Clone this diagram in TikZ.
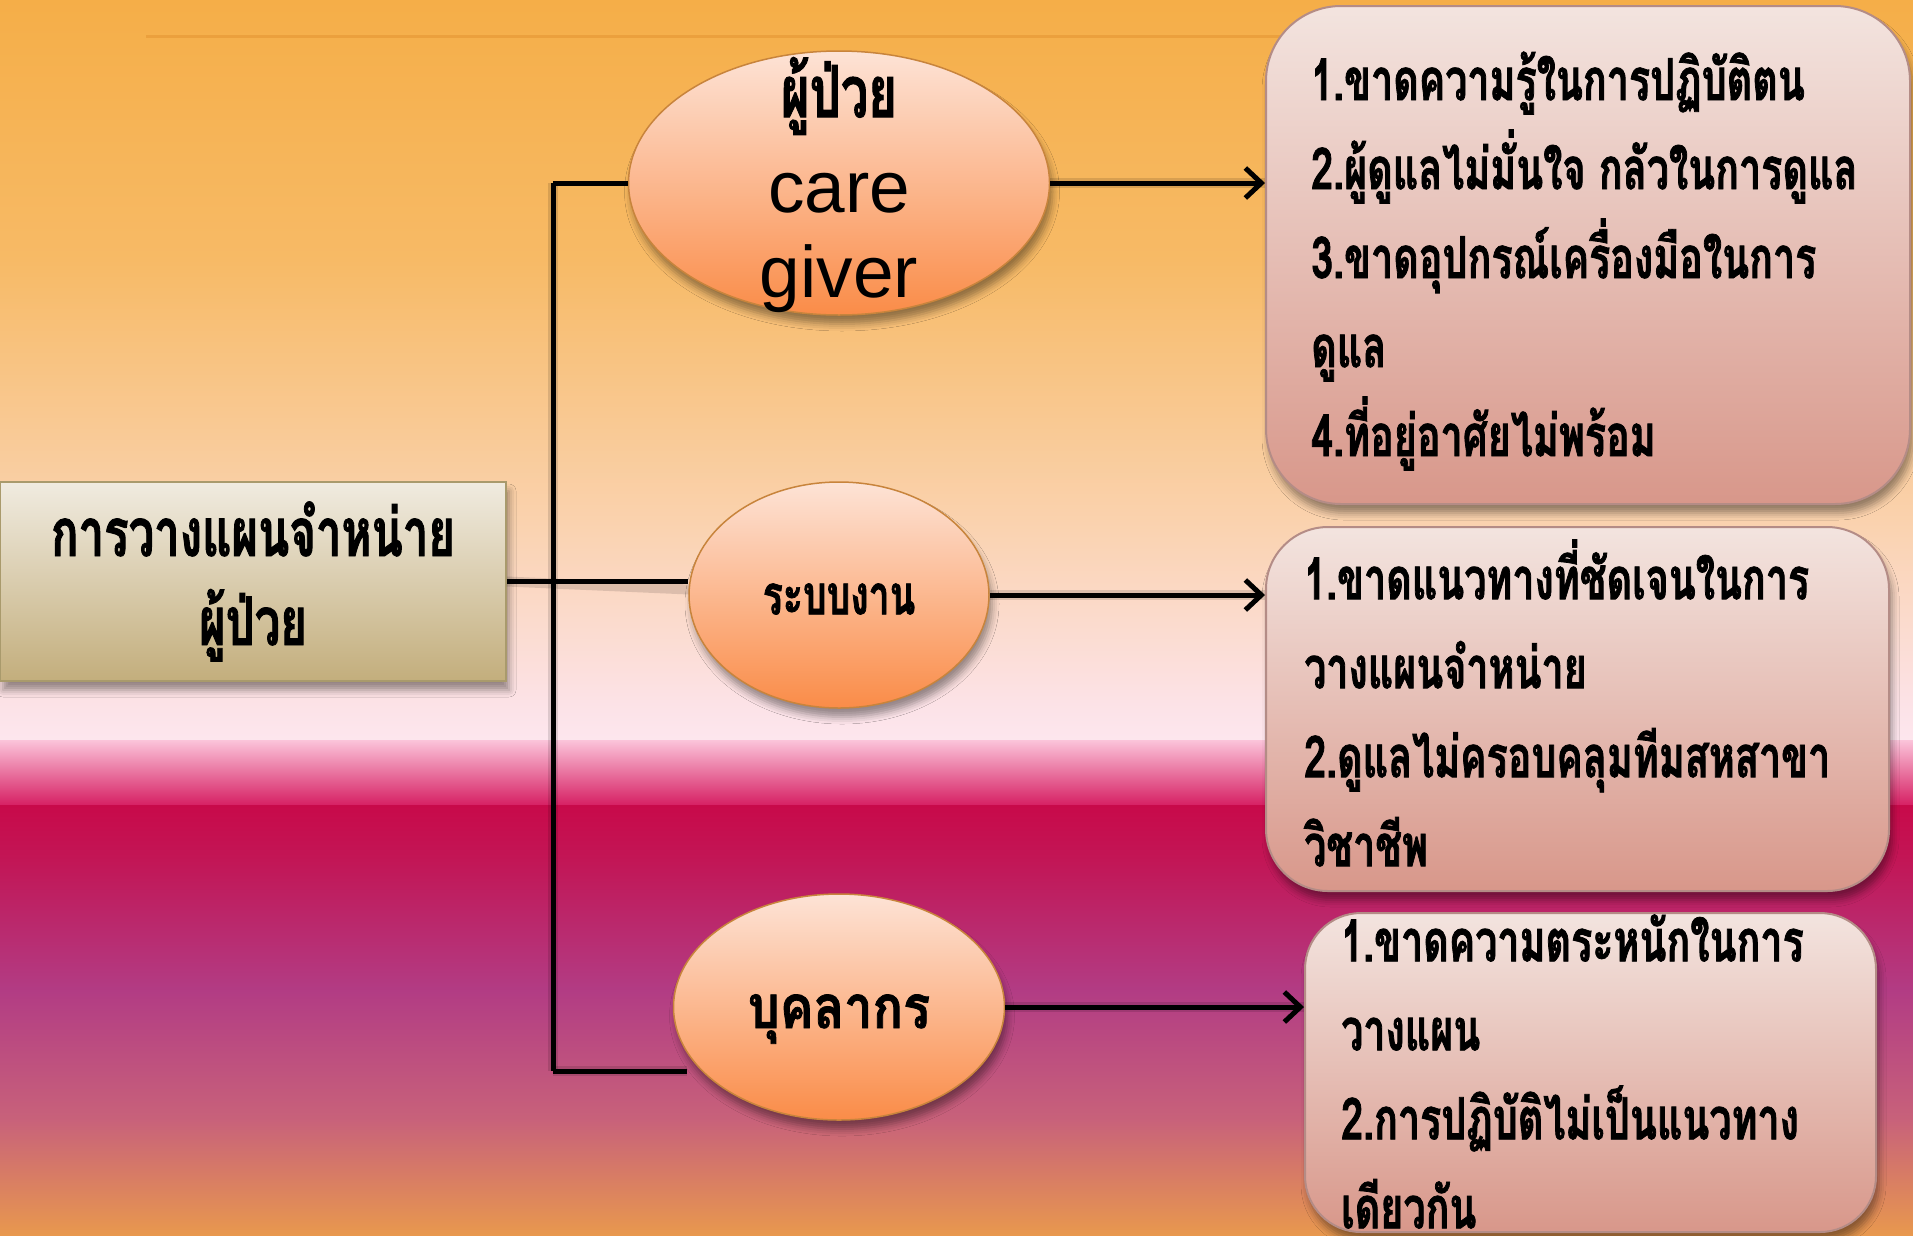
\documentclass[tikz,border=0pt]{standalone}
\usepackage{fontspec}
\newfontfamily\thai[Script=Thai,FakeStretch=0.68,BoldFeatures={FakeBold=1.3}]{Loma}
\newfontfamily\thaiwide[Script=Thai,FakeStretch=0.84,BoldFeatures={FakeBold=1.3}]{Loma}
\newfontfamily\latinf{Liberation Sans}
\usetikzlibrary{arrows.meta,shapes.geometric,shadows.blur}
\definecolor{bgA}{HTML}{F5AE48}
\definecolor{bgB}{HTML}{F7BA66}
\definecolor{bgC}{HTML}{FAD2AE}
\definecolor{bgD}{HTML}{FCE2E6}
\definecolor{bgE}{HTML}{FDE6EE}
\definecolor{bgF}{HTML}{FBC4DA}
\definecolor{bgG}{HTML}{F27AB0}
\definecolor{bgH}{HTML}{D61E62}
\definecolor{bgI}{HTML}{C80A4A}
\definecolor{bgJ}{HTML}{C21656}
\definecolor{bgK}{HTML}{B23C84}
\definecolor{bgL}{HTML}{C8627A}
\definecolor{bgM}{HTML}{E8984E}
\definecolor{elltop}{HTML}{FDE3D6}
\definecolor{ellbot}{HTML}{FA8C48}
\definecolor{ellbd}{HTML}{C8843C}
\definecolor{roottop}{HTML}{F0EBE0}
\definecolor{rootbot}{HTML}{C3AE7C}
\definecolor{rootbd}{HTML}{A99A6C}
\definecolor{rtop}{HTML}{F3E4DF}
\definecolor{rbot}{HTML}{D8978A}
\definecolor{rbd}{HTML}{B48C86}
\definecolor{topline}{HTML}{E89A38}
\tikzset{
  myshadow/.style={blur shadow={shadow xshift=3pt, shadow yshift=-9pt, shadow blur radius=7pt, shadow opacity=40}},
  ebox/.style={ellipse, draw=ellbd, line width=1.5pt, top color=elltop, bottom color=ellbot, inner sep=0pt, myshadow, align=center},
  rootbox/.style={rectangle, draw=rootbd, line width=1.5pt, top color=roottop, bottom color=rootbot, inner sep=0pt, myshadow, align=center, font=\thai\bfseries\fontsize{67}{89}\selectfont},
  rbox/.style={rectangle, draw=rbd, line width=2pt, top color=rtop, bottom color=rbot, inner sep=0pt, myshadow},
  rtext/.style={anchor=west, align=left, inner sep=0pt, font=\thai\bfseries\fontsize{58}{89}\selectfont},
  conn/.style={line width=5pt, black},
  connshadow/.style={line width=10pt, black, opacity=0.12, yshift=-8pt},
  arr/.style={conn, -{Straight Barb[length=16pt,width=30pt]}},
}
\begin{document}
\begin{tikzpicture}[x=1pt,y=-1pt]
% background
\useasboundingbox (0,0) rectangle (1913,1235);
\shade[top color=bgA, bottom color=bgB] (0,0) rectangle (1913,261);
\shade[top color=bgB, bottom color=bgC] (0,260) rectangle (1913,521);
\shade[top color=bgC, bottom color=bgD] (0,520) rectangle (1913,701);
\shade[top color=bgD, bottom color=bgE] (0,700) rectangle (1913,741);
\shade[top color=bgF, middle color=bgG, bottom color=bgH] (0,740) rectangle (1913,806);
\shade[top color=bgI, bottom color=bgJ] (0,805) rectangle (1913,861);
\shade[top color=bgJ, bottom color=bgK] (0,860) rectangle (1913,991);
\shade[top color=bgK, bottom color=bgL] (0,990) rectangle (1913,1121);
\shade[top color=bgL, bottom color=bgM] (0,1120) rectangle (1913,1235);
\draw[topline, opacity=0.7, line width=3pt] (146,36) -- (1280,36);

% coordinates of the trunk
\coordinate (tt) at (553,183);
\coordinate (tb) at (553,1071);
\coordinate (bend) at (687,1071);

\node[rootbox, minimum width=506, minimum height=199] (root) at (253,581.5) {\raisebox{-4pt}{การวางแผนจำหน่าย}\\\raisebox{-4pt}{ผู้ป่วย}};

% connectors (shadows first)
\draw[connshadow] (tt) -- (tb);
\draw[connshadow] (root.east) -- (689,581.5);
\draw[connshadow] (tb) -- (bend);
\draw[conn] (tt) -- (tb);
\draw[conn] (tb) -- (bend);

\node[ebox, minimum width=421, minimum height=264] (e1) at (839,183) {};
\node[ebox, minimum width=300, minimum height=226, font=\thai\bfseries\fontsize{55}{60}\selectfont] (e2) at (839,595) {\raisebox{-4pt}[\height][\depth]{ระบบงาน}};
\node[ebox, minimum width=331, minimum height=226, font=\thaiwide\bfseries\fontsize{60}{60}\selectfont] (e3) at (839,1007) {\raisebox{-12pt}[\height][\depth]{บุคลากร}};

\draw[conn] (root.east) -- (root.east -| e2.west);
\draw[conn] (tt) -- (e1.west);

\node[font=\thai\bfseries\fontsize{72}{72}\selectfont, inner sep=0pt] (e1a) at (839,96) {ผู้ป่วย};
\node[font=\latinf\fontsize{73}{80}\selectfont, inner sep=0pt, anchor=base] (e1b) at (839,212) {care};
\node[font=\latinf\fontsize{73}{80}\selectfont, inner sep=0pt, anchor=base] (e1c) at (839,297) {giver};

\node[rbox, rounded corners=75pt, minimum width=644, minimum height=498] (b1) at (1588,255) {};
\node[rbox, rounded corners=62pt, minimum width=623, minimum height=364] (b2) at (1577.5,709) {};
\node[rbox, rounded corners=56pt, minimum width=571, minimum height=319] (b3) at (1590.5,1072.5) {};

\node[rtext] (t1) at ([xshift=46pt,yshift=-6pt]b1.west) {1.ขาดความรู้ในการปฏิบัติตน\\2.ผู้ดูแลไม่มั่นใจ กลัวในการดูแล\\3.ขาดอุปกรณ์เครื่องมือในการ\\ดูแล\\4.ที่อยู่อาศัยไม่พร้อม};
\node[rtext] (t2) at ([xshift=39pt,yshift=6pt]b2.west) {1.ขาดแนวทางที่ชัดเจนในการ\\วางแผนจำหน่าย\\2.ดูแลไม่ครอบคลุมทีมสหสาขา\\วิชาชีพ};
\node[rtext] (t3) at ([xshift=37pt,yshift=1pt]b3.west) {1.ขาดความตระหนักในการ\\วางแผน\\2.การปฏิบัติไม่เป็นแนวทาง\\เดียวกัน};

\draw[connshadow] (e1.east) -- (e1.east -| b1.west);
\draw[connshadow] (e2.east) -- (e2.east -| b2.west);
\draw[connshadow] (e3.east) -- (e3.east -| b3.west);
\draw[arr] (e1.east) -- (e1.east -| b1.west);
\draw[arr] (e2.east) -- (e2.east -| b2.west);
\draw[arr] (e3.east) -- (e3.east -| b3.west);
\end{tikzpicture}
\end{document}
